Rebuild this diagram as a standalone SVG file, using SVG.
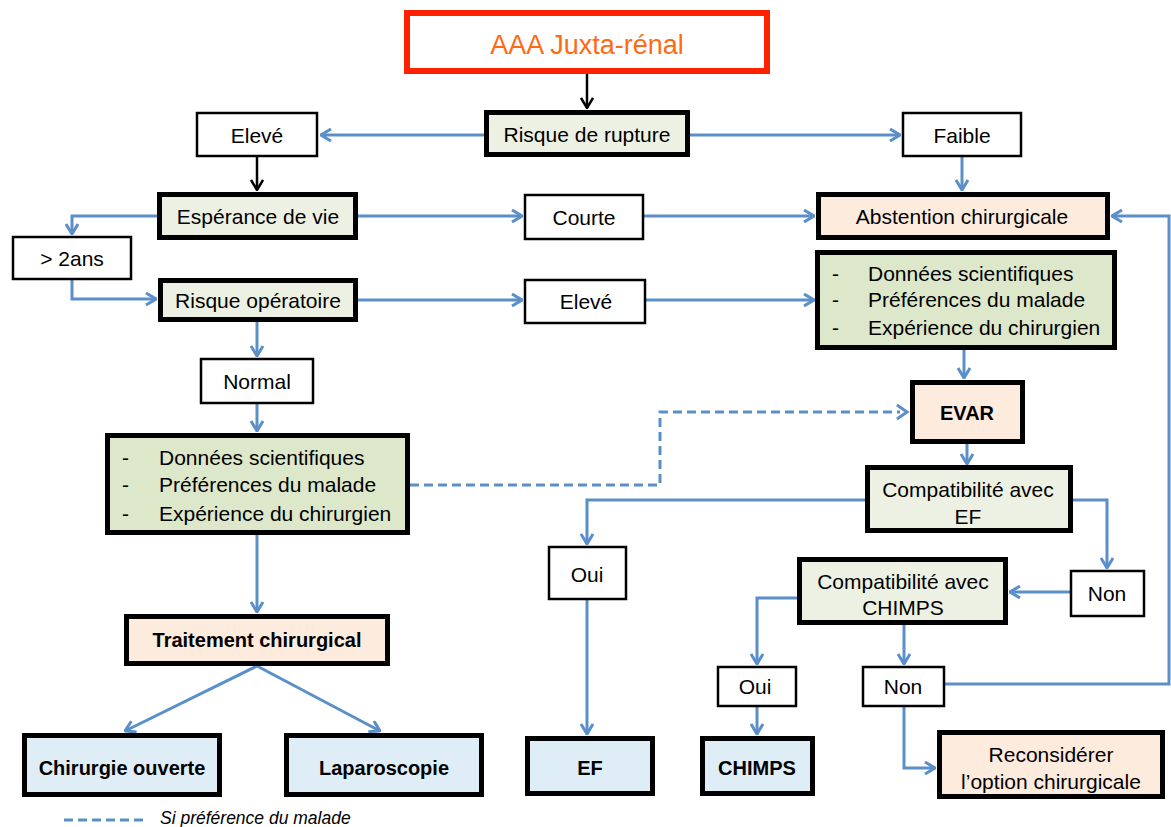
<svg xmlns="http://www.w3.org/2000/svg" width="1171" height="827" viewBox="0 0 1171 827">
<style>
text{font-family:"Liberation Sans",Arial,sans-serif;font-size:21px;fill:#000;text-anchor:middle;dominant-baseline:central}
.b{font-weight:bold;font-size:20px}
.l{text-anchor:start}
.thick{stroke:#000;stroke-width:5}
.thin{stroke:#000;stroke-width:2.5;fill:#fff}
.g1{fill:#EDF1E3}
.g2{fill:#DDE7CA}
.pe{fill:#FDEBDD}
.bl{fill:#DFEEF6}
.c{fill:none;stroke:#5B8FC9;stroke-width:3;marker-end:url(#ab)}
.k{fill:none;stroke:#000;stroke-width:2.5;marker-end:url(#ak)}
.d{fill:none;stroke:#5B8FC9;stroke-width:3;stroke-dasharray:9,5}
</style>
<defs>
<marker id="ab" viewBox="0 0 12 14" refX="11" refY="7" markerWidth="12" markerHeight="14" markerUnits="userSpaceOnUse" orient="auto"><path d="M1,1 L11,7 L1,13" fill="none" stroke="#5B8FC9" stroke-width="3"/></marker>
<marker id="ak" viewBox="0 0 12 14" refX="11" refY="7" markerWidth="12" markerHeight="14" markerUnits="userSpaceOnUse" orient="auto"><path d="M1,1 L11,7 L1,13" fill="none" stroke="#000" stroke-width="2.5"/></marker>
</defs>
<rect width="1171" height="827" fill="#fff"/>
<g id="connectors">
<path class="k" d="M587,74 V108"/>
<path class="c" d="M484,135 H321"/>
<path class="c" d="M690,135 H900"/>
<path class="k" d="M257,157 V190"/>
<path class="c" d="M962,157 V190"/>
<path class="c" d="M157,216 H72 V234"/>
<path class="c" d="M358,216 H522"/>
<path class="c" d="M644,216 H814"/>
<path class="c" d="M945,684 H1169 V216 H1112"/>
<path class="c" d="M72,280 V299 H156"/>
<path class="c" d="M358,300 H522"/>
<path class="c" d="M646,300 H814"/>
<path class="c" d="M964,350 V378"/>
<path class="c" d="M967,444 V464"/>
<path class="c" d="M865,500 H587 V544"/>
<path class="c" d="M1073,500 H1107 V568"/>
<path class="c" d="M587,600 V734"/>
<path class="c" d="M1070,592 H1010"/>
<path class="c" d="M797,598 H757 V664"/>
<path class="c" d="M757,707 V734"/>
<path class="c" d="M904,625 V664"/>
<path class="c" d="M904,707 V768 H935"/>
<path class="c" d="M257,322 V356"/>
<path class="c" d="M257,404 V431"/>
<path class="d" d="M410,485 H660 V412 H900"/>
<path fill="none" stroke="#5B8FC9" stroke-width="3" d="M897,405 L907,412 L897,419"/>
<path class="c" d="M257,535 V612"/>
<path class="c" d="M257,666 L125,731"/>
<path class="c" d="M257,666 L380,731"/>
</g>
<g id="aaa"><rect x="407" y="13" width="360" height="58" fill="#fff" stroke="#FF2200" stroke-width="6"/><text x="587" y="45" style="fill:#FF6A13;font-size:27px">AAA Juxta-rénal</text></g>
<g id="risque-rupture"><rect class="thick g1" x="486.5" y="112.5" width="201" height="42"/><text x="587" y="134">Risque de rupture</text></g>
<g id="eleve1"><rect class="thin" x="197" y="113" width="120" height="43"/><text x="257" y="135">Elevé</text></g>
<g id="faible"><rect class="thin" x="903" y="113" width="118" height="43"/><text x="962" y="135">Faible</text></g>
<g id="esperance"><rect class="thick g1" x="159.5" y="194.5" width="196" height="43"/><text x="258" y="216">Espérance de vie</text></g>
<g id="plus2ans"><rect class="thin" x="13" y="237" width="118" height="42"/><text x="72" y="258">&gt; 2ans</text></g>
<g id="courte"><rect class="thin" x="525" y="195" width="118" height="44"/><text x="584" y="217">Courte</text></g>
<g id="abstention"><rect class="thick pe" x="818.5" y="194.5" width="289" height="43"/><text x="962" y="216">Abstention chirurgicale</text></g>
<g id="risque-op"><rect class="thick g1" x="160.5" y="280.5" width="195" height="39"/><text x="258" y="300">Risque opératoire</text></g>
<g id="eleve2"><rect class="thin" x="525" y="280" width="120" height="43"/><text x="586" y="301">Elevé</text></g>
<g id="criteres-droite"><rect class="thick g2" x="817.5" y="252.5" width="297" height="95"/>
<text class="l" x="832" y="273">-</text><text class="l" x="868" y="273">Données scientifiques</text>
<text class="l" x="832" y="299">-</text><text class="l" x="868" y="299">Préférences du malade</text>
<text class="l" x="832" y="327">-</text><text class="l" x="868" y="327">Expérience du chirurgien</text></g>
<g id="evar"><rect class="thick pe" x="912.5" y="382.5" width="110" height="59"/><text class="b" x="967" y="413">EVAR</text></g>
<g id="compat-ef"><rect class="thick g1" x="867.5" y="467.5" width="203" height="63"/><text x="968" y="489">Compatibilité avec</text><text x="968" y="516">EF</text></g>
<g id="oui-ef"><rect class="thin" x="549" y="547" width="77" height="52"/><text x="587" y="574">Oui</text></g>
<g id="non-ef"><rect class="thin" x="1071" y="571" width="73" height="45"/><text x="1107" y="593">Non</text></g>
<g id="ef"><rect class="thick bl" x="527.5" y="738.5" width="125" height="55"/><text class="b" x="590" y="768">EF</text></g>
<g id="compat-chimps"><rect class="thick g1" x="799.5" y="559.5" width="206" height="63"/><text x="903" y="581">Compatibilité avec</text><text x="903" y="607">CHIMPS</text></g>
<g id="oui-chimps"><rect class="thin" x="718" y="667" width="78" height="39"/><text x="755" y="686">Oui</text></g>
<g id="chimps"><rect class="thick bl" x="702.5" y="738.5" width="110" height="55"/><text class="b" x="757" y="768">CHIMPS</text></g>
<g id="non-chimps"><rect class="thin" x="863" y="667" width="81" height="39"/><text x="903" y="686">Non</text></g>
<g id="reconsiderer"><rect class="thick pe" x="939.5" y="732.5" width="223" height="64"/><text x="1051" y="754">Reconsidérer</text><text x="1051" y="781">l’option chirurgicale</text></g>
<g id="normal"><rect class="thin" x="201" y="359" width="112" height="44"/><text x="257" y="381">Normal</text></g>
<g id="criteres-gauche"><rect class="thick g2" x="107.5" y="435.5" width="300" height="97"/>
<text class="l" x="122" y="457">-</text><text class="l" x="159" y="457">Données scientifiques</text>
<text class="l" x="122" y="484">-</text><text class="l" x="159" y="484">Préférences du malade</text>
<text class="l" x="122" y="513">-</text><text class="l" x="159" y="513">Expérience du chirurgien</text></g>
<g id="traitement"><rect class="thick pe" x="126.5" y="616.5" width="261" height="47"/><text class="b" x="257" y="640">Traitement chirurgical</text></g>
<g id="chirurgie-ouverte"><rect class="thick bl" x="24.5" y="735.5" width="195" height="59"/><text class="b" x="122" y="768">Chirurgie ouverte</text></g>
<g id="laparoscopie"><rect class="thick bl" x="286.5" y="735.5" width="195" height="59"/><text class="b" x="384" y="768">Laparoscopie</text></g>
<g id="legend"><path class="d" d="M64,820 H144"/><text class="l" x="160" y="818" style="font-style:italic;font-size:17.5px">Si préférence du malade</text></g>
</svg>
